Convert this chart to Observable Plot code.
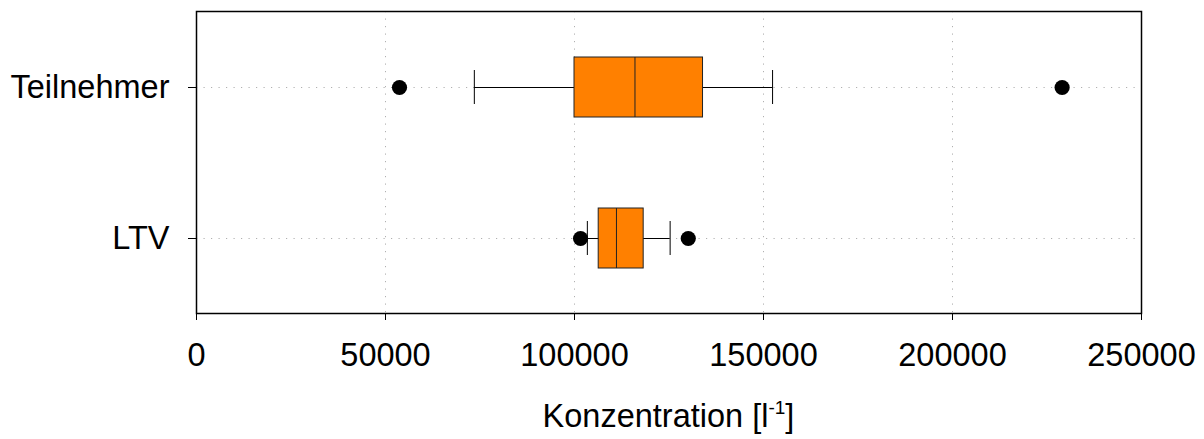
<!DOCTYPE html>
<html>
<head>
<meta charset="utf-8">
<script src="https://cdn.jsdelivr.net/npm/d3@7"></script>
<script src="https://cdn.jsdelivr.net/npm/@observablehq/plot@0.6"></script>
<style>
  html, body { margin: 0; padding: 0; background: #fff; }
  #chart svg { display: block; }
</style>
</head>
<body>
<div id="chart"></div>
<script>
// Categories (top to bottom)
const categories = ["Teilnehmer", "LTV"];
// Box-plot statistics per category
const whiskerLow  = [73500, 103400];
const q1          = [100000, 106400];
const median      = [116000, 111100];
const q3          = [134000, 118300];
const whiskerHigh = [152400, 125300];
// Outliers
const outlierCategory = ["Teilnehmer", "Teilnehmer", "LTV", "LTV"];
const outlierValue    = [53700, 229000, 101600, 130100];
// Axis ticks
const xTicks = [0, 50000, 100000, 150000, 200000, 250000];
const gridTicks = [50000, 100000, 150000, 200000];

const boxes = categories.map((c, i) => ({
  cat: c, lo: whiskerLow[i], q1: q1[i], med: median[i], q3: q3[i], hi: whiskerHigh[i]
}));
const outliers = outlierCategory.map((c, i) => ({cat: c, v: outlierValue[i]}));

const gridStyle = {stroke: "#b0b0b0", strokeWidth: 1, strokeDasharray: "1.2,6.3"};

const chart = Plot.plot({
  width: 1204,
  height: 439,
  marginLeft: 196,
  marginRight: 63,
  marginTop: 11,
  marginBottom: 126,
  style: {fontFamily: "Liberation Sans, Arial, sans-serif", fontSize: "32.5px", color: "black", background: "white"},
  x: {domain: [0, 250000]},
  y: {type: "band", domain: categories, paddingInner: 0.603, paddingOuter: 0.3015},
  marks: [
    Plot.ruleX(gridTicks, {x: d => d, ...gridStyle}),
    Plot.ruleY(categories, {y: d => d, x1: 0, x2: 250000, ...gridStyle}),
    Plot.ruleY(boxes, {y: "cat", x1: "lo", x2: "hi", stroke: "black", strokeWidth: 1}),
    Plot.tickX(boxes, {y: "cat", x: "lo", stroke: "black", strokeWidth: 1, insetTop: 13, insetBottom: 13}),
    Plot.tickX(boxes, {y: "cat", x: "hi", stroke: "black", strokeWidth: 1, insetTop: 13, insetBottom: 13}),
    Plot.barX(boxes, {y: "cat", x1: "q1", x2: "q3", fill: "#ff8000", stroke: "#222", strokeWidth: 1}),
    Plot.tickX(boxes, {y: "cat", x: "med", stroke: "#222", strokeWidth: 1}),
    Plot.dot(outliers, {y: "cat", x: "v", r: 7.6, fill: "black", stroke: "none"}),
    Plot.frame({stroke: "black", strokeWidth: 1.5}),
    Plot.axisX({ticks: xTicks, tickFormat: d => String(d), tickSize: 7, tickPadding: 22, label: null, fontSize: 32.5}),
    Plot.axisY({tickSize: 8, tickPadding: 19, label: null, fontSize: 32.5})
  ]
});

document.getElementById("chart").appendChild(chart);

// Axis title with superscript as real text
const svg = d3.select(chart.tagName.toLowerCase() === "svg" ? chart : chart.querySelector("svg"));
const t = svg.append("text")
  .attr("x", (196 + 1141) / 2)
  .attr("y", 427)
  .attr("text-anchor", "middle")
  .attr("font-family", "Liberation Sans, Arial, sans-serif")
  .attr("font-size", 32.5)
  .attr("fill", "black");
t.append("tspan").text("Konzentration [l");
t.append("tspan").attr("font-size", 19).attr("dy", -13).text("-1");
t.append("tspan").attr("dy", 13).text("]");
</script>
</body>
</html>
